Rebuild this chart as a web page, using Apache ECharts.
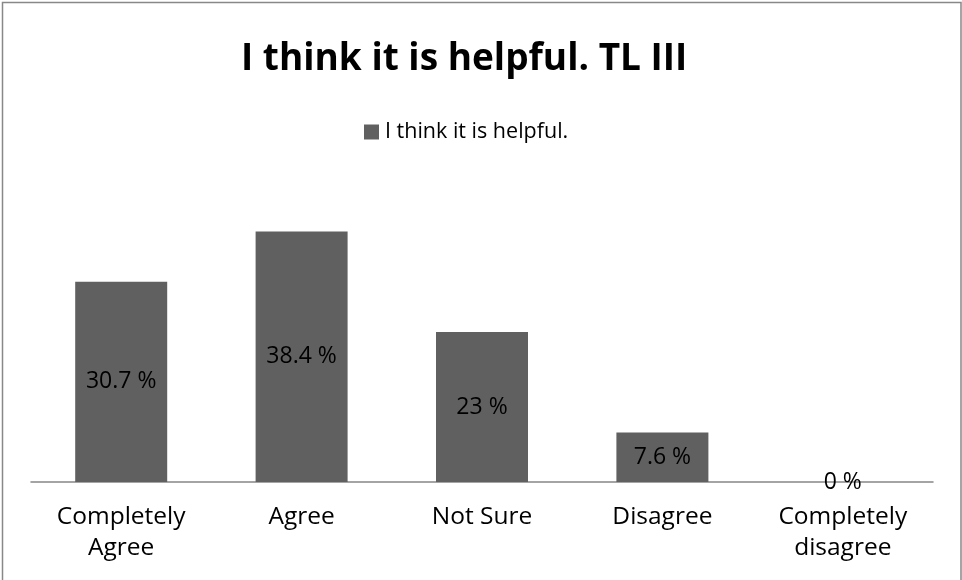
<!DOCTYPE html>
<html>
<head>
<meta charset="utf-8">
<script src="https://cdn.jsdelivr.net/npm/echarts@6/dist/echarts.min.js"></script>
<style>html,body{margin:0;padding:0;background:#fff;}#c{width:962px;height:580px;}</style>
</head>
<body>
<div id="c"></div>
<script>
var titleText = 'I think it is helpful. TL III';
var seriesName = 'I think it is helpful.';
var categories = ['Completely\nAgree', 'Agree', 'Not Sure', 'Disagree', 'Completely\ndisagree'];
var values = [30.7, 38.4, 23, 7.6, 0];

var chart = echarts.init(document.getElementById('c'), null, {renderer: 'canvas'});
var FONT = '"Open Sans", "Liberation Sans", sans-serif';
chart.setOption({
  animation: false,
  backgroundColor: '#fff',
  graphic: [{
    type: 'rect', left: 0, top: 0, silent: true,
    shape: {x: 2, y: 5.5, width: 958.5, height: 700},
    style: {fill: 'none', stroke: '#888888', lineWidth: 1.5}
  }],
  title: {
    text: titleText, left: 236, top: 36,
    textStyle: {fontFamily: FONT, fontWeight: 'bold', fontSize: 37, color: '#000'}
  },
  legend: {
    data: [seriesName], top: 116, left: 359, icon: 'rect',
    itemWidth: 15, itemHeight: 15, itemGap: 4,
    textStyle: {fontFamily: FONT, fontSize: 21.5, color: '#000', padding: [0,0,0,1]}
  },
  grid: {left: 31, right: 29, top: 221, bottom: 98, containLabel: false},
  xAxis: {
    type: 'category', data: categories,
    axisLine: {lineStyle: {color: '#868686', width: 1.5}},
    axisTick: {show: false},
    axisLabel: {fontFamily: FONT, fontSize: 24.5, color: '#000', lineHeight: 31, margin: 20, interval: 0}
  },
  yAxis: {
    type: 'value', min: 0, max: 40, show: false,
    splitLine: {show: false}
  },
  series: [{
    name: seriesName, type: 'bar', data: values, barWidth: 92,
    itemStyle: {color: '#606060'},
    label: {
      show: true, position: 'inside', formatter: '{c} %',
      fontFamily: FONT, fontSize: 23, color: '#000'
    }
  }]
});
</script>
</body>
</html>
